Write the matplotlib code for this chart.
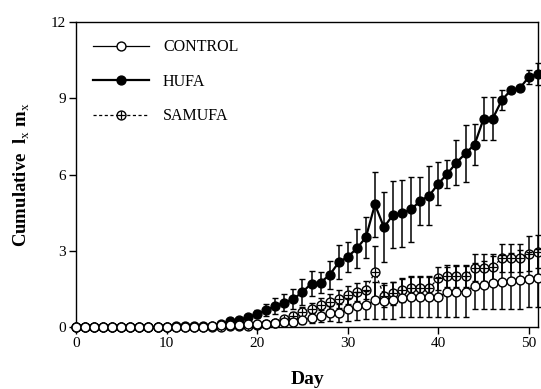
import matplotlib
matplotlib.use("Agg")
import matplotlib.pyplot as plt
from matplotlib.legend_handler import HandlerTuple
import numpy as np

days = list(range(0, 52))

control = [0]*15 + [0.05, 0.08, 0.06, 0.06, 0.10, 0.10, 0.12, 0.17, 0.19, 0.21,
                    0.26, 0.37, 0.43, 0.54, 0.54, 0.70, 0.83, 0.87, 1.05, 1.03,
                    1.05, 1.16, 1.20, 1.20, 1.20, 1.18, 1.38, 1.39, 1.39, 1.62,
                    1.65, 1.75, 1.78, 1.82, 1.86, 1.88, 1.92]
control_err = [0]*21 + [0.05, 0.08, 0.10, 0.12, 0.15, 0.20, 0.25, 0.30, 0.35, 0.45,
                        0.55, 0.55, 0.72, 0.72, 0.72, 0.77, 0.80, 0.80, 0.80, 0.79,
                        0.99, 1.00, 1.00, 0.91, 0.94, 1.04, 1.07, 1.11, 1.15, 1.09,
                        1.13]

hufa = [0]*11 + [0.03, 0.03, 0.03, 0.03, 0.05, 0.10, 0.24, 0.27, 0.39, 0.51,
                 0.67, 0.83, 0.96, 1.10, 1.38, 1.71, 1.75, 2.05, 2.54, 2.76,
                 3.09, 3.53, 4.82, 3.92, 4.42, 4.48, 4.63, 4.96, 5.17, 5.64,
                 6.03, 6.47, 6.83, 7.18, 8.20, 8.20, 8.92, 9.32, 9.40, 9.84,
                 9.95]
hufa_err = [0]*17 + [0.05, 0.07, 0.10, 0.15, 0.23, 0.30, 0.32, 0.40, 0.50, 0.50,
                     0.43, 0.55, 0.67, 0.58, 0.75, 0.81, 1.29, 1.38, 1.32, 1.32,
                     1.27, 0.96, 1.15, 0.84, 0.55, 0.87, 1.13, 0.82, 0.86, 0.86,
                     0.40, 0.10, 0.10, 0.27, 0.44]

samufa = [0]*17 + [0.02, 0.03, 0.05, 0.07, 0.10, 0.17, 0.30, 0.43, 0.60, 0.70,
                   0.86, 1.00, 1.09, 1.25, 1.39, 1.45, 2.18, 1.22, 1.32, 1.44,
                   1.53, 1.53, 1.53, 1.92, 2.01, 2.01, 2.01, 2.33, 2.33, 2.35,
                   2.72, 2.72, 2.72, 2.89, 2.96]
samufa_err = [0]*21 + [0.05, 0.08, 0.10, 0.15, 0.20, 0.25, 0.30, 0.30, 0.35, 0.35,
                       0.35, 0.35, 1.02, 0.45, 0.45, 0.45, 0.45, 0.45, 0.45, 0.45,
                       0.42, 0.42, 0.42, 0.53, 0.53, 0.53, 0.55, 0.55, 0.55, 0.68,
                       0.65]

labels = ["CONTROL", "HUFA", "SAMUFA"]
xticks = [0, 10, 20, 30, 40, 50]
yticks = [0, 3, 6, 9, 12]

plt.rcParams['font.family'] = ['Liberation Serif', 'DejaVu Serif']
plt.rcParams['mathtext.fontset'] = 'custom'
plt.rcParams['mathtext.rm'] = 'Liberation Serif'
plt.rcParams['mathtext.bf'] = 'Liberation Serif:bold'

fig = plt.figure(figsize=(5.41, 3.89), dpi=100)
ax = fig.add_axes([76/541, 1-327/389, (538-76)/541, (327-22)/389])

ms = 6.4
mew = 1.0

# HUFA
eb_h = ax.errorbar(days, hufa, yerr=hufa_err, color='black', lw=1.6,
                   marker='o', ms=ms, mfc='black', mec='black', mew=mew,
                   ecolor='black', elinewidth=1.1, capsize=2.5, capthick=1.0,
                   zorder=3, clip_on=False)
# SAMUFA
eb_s = ax.errorbar(days, samufa, yerr=samufa_err, color='black', lw=0.9,
                   ls=(0, (2.5, 2.0)), marker='o', ms=ms, mfc='white', mec='black',
                   mew=mew, ecolor='black', elinewidth=1.1, capsize=2.5, capthick=1.0,
                   zorder=4, clip_on=False)
plus_s, = ax.plot(days, samufa, ls='none', marker='+', ms=ms, mec='black',
                  mew=0.9, zorder=4.5, clip_on=False)
# CONTROL
eb_c = ax.errorbar(days, control, yerr=control_err, color='black', lw=0.9,
                   marker='o', ms=ms, mfc='white', mec='black', mew=mew,
                   ecolor='black', elinewidth=1.1, capsize=2.5, capthick=1.0,
                   zorder=5, clip_on=False)

for eb in (eb_h, eb_s, eb_c):
    for c in eb[1]:
        c.set_clip_on(False)
    for c in eb[2]:
        c.set_clip_on(False)

ax.set_xlim(0, 51)
ax.set_ylim(0, 12)
ax.set_xticks(xticks)
ax.set_yticks(yticks)
ax.tick_params(direction='out', length=5, width=1.0, labelsize=11, pad=2)
for sp in ax.spines.values():
    sp.set_linewidth(1.0)

ax.set_xlabel("Day", fontsize=14, fontweight='bold', labelpad=15)
ax.set_ylabel(r"Cumulative  l$_{\rm x}$ m$_{\rm x}$", fontsize=13.5,
              fontweight='bold', labelpad=14)

h_c = eb_c[0]
h_h = eb_h[0]
h_s = (eb_s[0], plus_s)
leg = ax.legend([h_c, h_h, h_s], labels, loc='upper left',
                bbox_to_anchor=(0.005, 0.99), frameon=False, fontsize=11.5,
                handlelength=3.5, handletextpad=0.9, labelspacing=1.15,
                numpoints=1, handler_map={tuple: HandlerTuple(ndivide=1)})

fig.savefig("out.png", dpi=100)
